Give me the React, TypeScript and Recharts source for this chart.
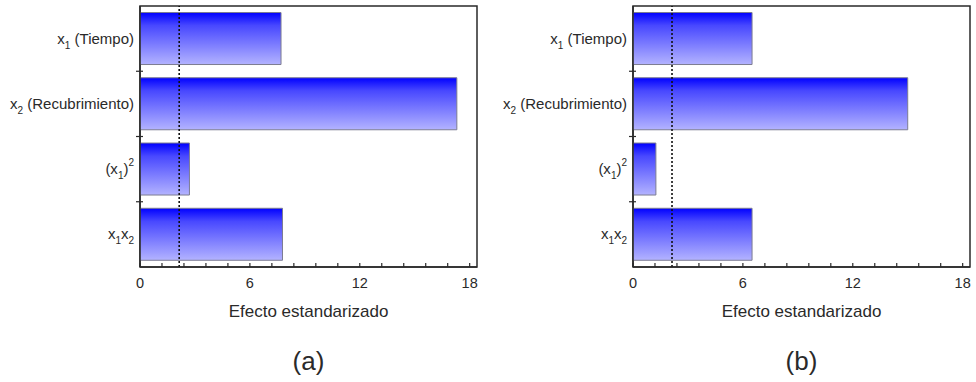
import { Bar, BarChart, ReferenceArea, ReferenceLine, XAxis, YAxis } from "recharts";

const factors = ["x1 (Tiempo)", "x2 (Recubrimiento)", "(x1)^2", "x1x2"];
const effectsA = [7.7, 17.3, 2.7, 7.78];
const effectsB = [6.5, 15.0, 1.25, 6.5];
const critA = 2.14;
const critB = 2.13;
const xTicks = [0, 1.2, 2.4, 3.6, 4.8, 6, 7.2, 8.4, 9.6, 10.8, 12, 13.2, 14.4, 15.6, 16.8, 18];
const xLabelTicks = [0, 6, 12, 18];
const xMax = 18.4;
const xTitle = "Efecto estandarizado";

const FONT = '"Liberation Sans", Arial, sans-serif';
const INK = "#2a2a2a";

// splits "x1 (Tiempo)" / "(x1)^2" into plain, subscript and superscript runs
function richParts(text: string) {
  const parts: { t: string; kind: "n" | "sub" | "sup" }[] = [];
  for (let i = 0; i < text.length; i++) {
    const ch = text[i];
    if (/\d/.test(ch) && text[i - 1] === "x") parts.push({ t: ch, kind: "sub" });
    else if (ch === "^") {
      parts.push({ t: text[i + 1], kind: "sup" });
      i++;
    } else {
      const last = parts[parts.length - 1];
      if (last && last.kind === "n") last.t += ch;
      else parts.push({ t: ch, kind: "n" });
    }
  }
  return parts;
}

function FactorTick(props: any) {
  const { x, y, payload } = props;
  const parts = richParts(String(payload.value));
  let cur = 0;
  const half = typeof payload.offset === "number" ? payload.offset : 0;
  return (
    <g>
      <text x={x - 6} y={y + 5} textAnchor="end" fontSize={15} fontFamily={FONT} fill={INK}>
        {parts.map((p, i) => {
          const target = p.kind === "sub" ? 5 : p.kind === "sup" ? -8 : 0;
          const dy = target - cur;
          cur = target;
          return (
            <tspan key={i} dy={dy} fontSize={p.kind === "n" ? 15 : 10}>
              {p.t}
            </tspan>
          );
        })}
      </text>
      {payload.index < factors.length - 1 && half > 0 && (
        <line x1={x - 4} x2={x + 3} y1={y + half} y2={y + half} stroke={INK} strokeWidth={1.2} />
      )}
    </g>
  );
}

function EffectTick(props: any) {
  const { x, y, payload } = props;
  const major = xLabelTicks.includes(payload.value);
  return (
    <g>
      <line x1={x} x2={x} y1={y} y2={y - 4} stroke={INK} strokeWidth={1.2} />
      {major && (
        <text x={x} y={y + 21} textAnchor="middle" fontSize={14.5} fontFamily={FONT} fill={INK}>
          {payload.value}
        </text>
      )}
    </g>
  );
}

function Panel({
  id,
  left,
  width,
  axisWidth,
  right,
  values,
  crit,
  tag,
}: {
  id: string;
  left: number;
  width: number;
  axisWidth: number;
  right: number;
  values: number[];
  crit: number;
  tag: string;
}) {
  const data = factors.map((f, i) => ({ factor: f, effect: values[i] }));
  return (
    <div style={{ position: "absolute", left, top: 0, width, height: 382 }}>
      <BarChart
        width={width}
        height={382}
        data={data}
        layout="vertical"
        margin={{ top: 6, right, bottom: 65, left: 0 }}
        barCategoryGap="10%"
      >
        <defs>
          <linearGradient id={`grad-${id}`} x1="0" y1="0" x2="0" y2="1">
            <stop offset="0%" stopColor="#0000ff" />
            <stop offset="25%" stopColor="#4848ff" />
            <stop offset="100%" stopColor="#b3b3ff" />
          </linearGradient>
        </defs>
        <XAxis
          type="number"
          dataKey="effect"
          domain={[0, xMax]}
          ticks={xTicks}
          interval={0}
          allowDataOverflow
          height={50}
          tickSize={0}
          tickMargin={0}
          tickLine={false}
          tick={<EffectTick />}
          axisLine={{ stroke: INK, strokeWidth: 1.5 }}
          label={{
            value: xTitle,
            position: "insideBottom",
            offset: 0,
            fontSize: 17,
            fontFamily: FONT,
            fill: INK,
          }}
        />
        <YAxis
          type="category"
          dataKey="factor"
          width={axisWidth}
          tickSize={0}
          tickMargin={0}
          tickLine={false}
          interval={0}
          tick={<FactorTick />}
          axisLine={{ stroke: INK, strokeWidth: 1.5 }}
        />
        <ReferenceArea x1={0} x2={xMax} fill="none" stroke={INK} strokeWidth={1.5} ifOverflow="visible" />
        <Bar
          dataKey="effect"
          fill={`url(#grad-${id})`}
          stroke="#7c7c92"
          strokeWidth={1}
          isAnimationActive={false}
        />
        <ReferenceLine x={crit} stroke="#111" strokeWidth={1.6} strokeDasharray="2 2" />
      </BarChart>
      <div
        style={{
          position: "absolute",
          top: 346,
          left: axisWidth,
          width: width - axisWidth - right,
          textAlign: "center",
          fontFamily: FONT,
          fontSize: 26,
          color: INK,
          lineHeight: "30px",
        }}
      >
        {tag}
      </div>
    </div>
  );
}

export default function App() {
  return (
    <div style={{ position: "absolute", left: 0, top: 0, width: 976, height: 382, background: "#fff" }}>
      <Panel id="a" left={0} width={490} axisWidth={140} right={13} values={effectsA} crit={critA} tag="(a)" />
      <Panel id="b" left={490} width={486} axisWidth={143} right={6} values={effectsB} crit={critB} tag="(b)" />
    </div>
  );
}
